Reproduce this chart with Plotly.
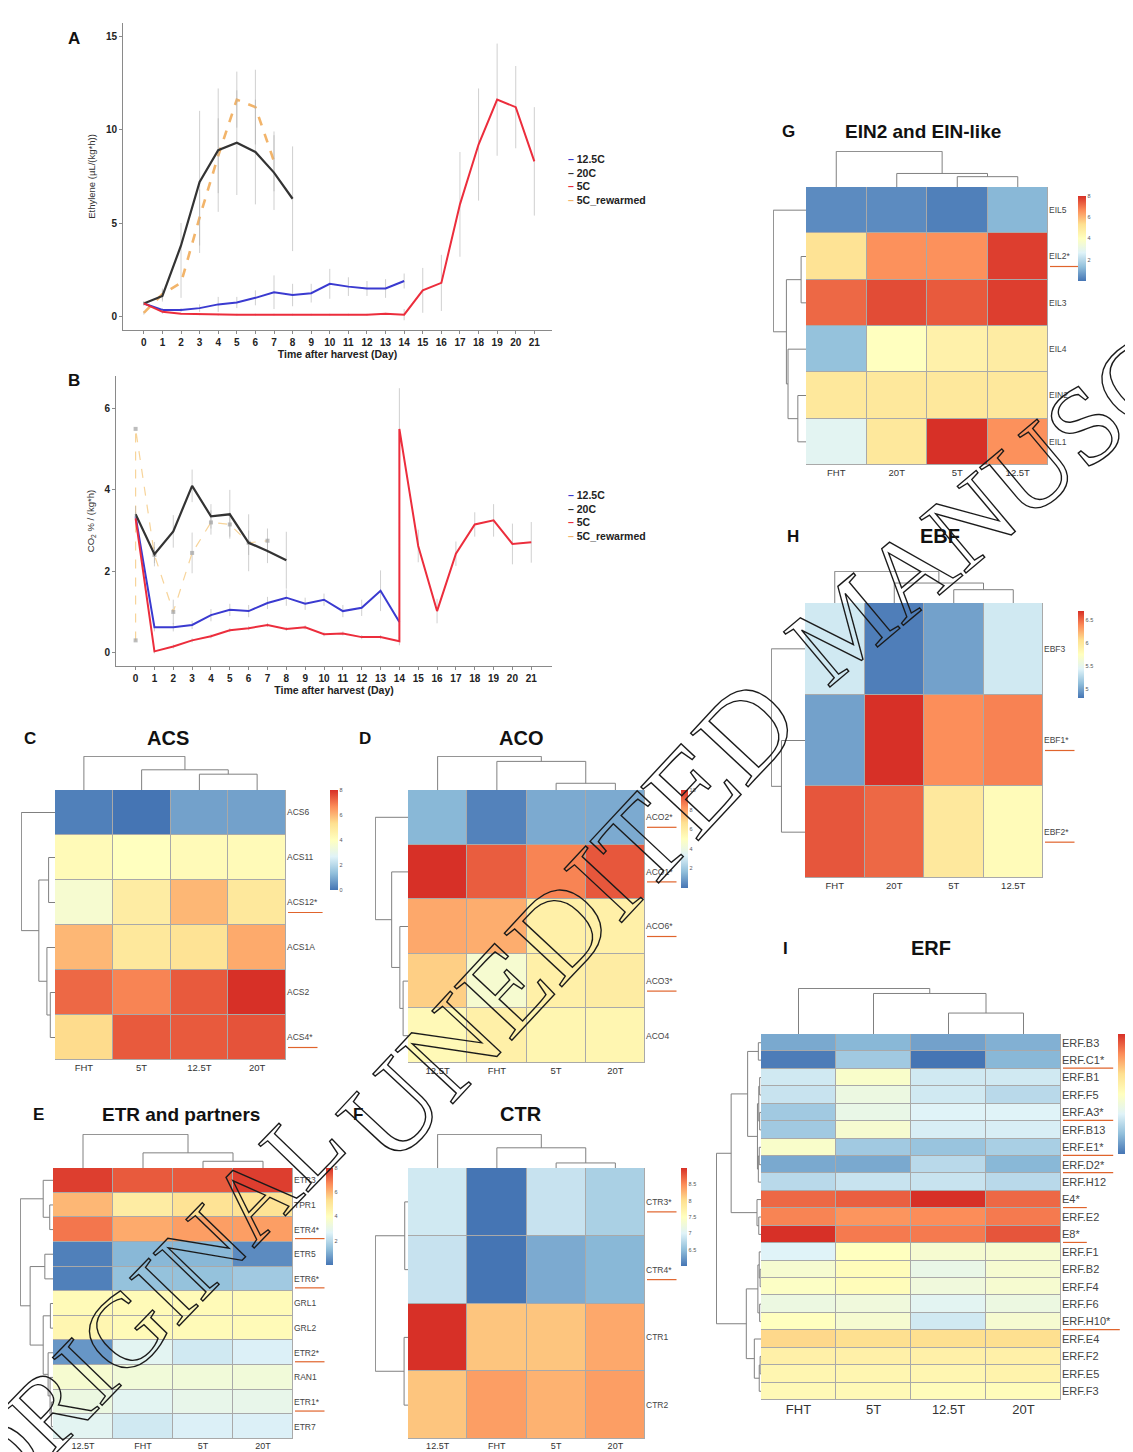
import plotly.graph_objects as go

W, H = 1133, 1452
FONT = "Liberation Sans, Arial, sans-serif"

# ---------------- Panel A / B data ----------------
days = list(range(22))

a_125_x = list(range(15))
a_125_y = [0.7, 0.35, 0.35, 0.45, 0.65, 0.75, 1.0, 1.3, 1.15, 1.25, 1.75, 1.6, 1.5, 1.5, 1.9]
a_125_e = [0.1, 0.1, 0.1, 0.2, 0.4, 0.3, 0.4, 0.9, 0.6, 0.5, 0.8, 0.5, 0.4, 0.5, 0.4]
a_20_x = list(range(9))
a_20_y = [0.7, 1.1, 3.8, 7.2, 8.9, 9.3, 8.8, 7.7, 6.3]
a_20_e = [0.1, 0.3, 1.2, 3.8, 3.3, 2.8, 2.8, 2.0, 2.8]
a_5_x = list(range(22))
a_5_y = [0.7, 0.25, 0.15, 0.12, 0.1, 0.1, 0.1, 0.1, 0.1, 0.1, 0.1, 0.1, 0.1, 0.15, 0.1,
         1.4, 1.8, 6.0, 9.2, 11.6, 11.2, 8.3]
a_5_e = [0.1, 0.1, 0.05, 0.05, 0.05, 0.05, 0.05, 0.05, 0.05, 0.05, 0.05, 0.05, 0.05, 0.05, 0.3,
         1.2, 1.5, 2.8, 3.0, 3.0, 2.2, 2.9]
a_rw_x = list(range(8))
a_rw_y = [0.2, 1.2, 1.8, 5.3, 8.6, 11.6, 11.2, 8.3]
a_rw_e = [0.1, 0.3, 0.8, 1.5, 2.0, 1.5, 2.0, 1.6]

b_125_x = list(range(15))
b_125_y = [3.35, 0.62, 0.62, 0.68, 0.92, 1.05, 1.02, 1.22, 1.35, 1.2, 1.3, 1.02, 1.1, 1.52, 0.75]
b_125_e = [0.1, 0.1, 0.1, 0.1, 0.15, 0.15, 0.15, 0.15, 0.2, 0.15, 0.15, 0.15, 0.2, 0.5, 0.2]
b_20_x = list(range(9))
b_20_y = [3.4, 2.42, 2.98, 4.1, 3.35, 3.4, 2.7, 2.5, 2.27]
b_20_e = [0.2, 0.3, 0.4, 0.4, 0.3, 0.6, 0.7, 0.3, 0.7]
b_5_x = list(range(15)) + [14] + list(range(15, 22))
b_5_y = [3.3, 0.03, 0.15, 0.3, 0.4, 0.55, 0.6, 0.68, 0.58, 0.62, 0.45, 0.47, 0.38, 0.38, 0.28,
         5.5, 2.62, 1.02, 2.43, 3.15, 3.25, 2.67, 2.71]
b_5_e = [0.1, 0.05, 0.05, 0.05, 0.05, 0.05, 0.05, 0.05, 0.05, 0.05, 0.05, 0.05, 0.05, 0.05, 0.1,
         1.0, 0.4, 0.3, 0.3, 0.3, 0.4, 0.5, 0.5]
b_rw_x = [0, 0, 1, 2, 3, 4, 5, 6, 7]
b_rw_y = [0.3, 5.5, 2.4, 1.0, 2.45, 3.2, 3.15, 2.7, 2.75]
b_rw_e = [0.0, 0.0, 0.2, 0.3, 0.5, 0.3, 0.3, 0.3, 0.3]

series_names = ["12.5C", "20C", "5C", "5C_rewarmed"]
series_colors = ["#3a3ad0", "#333333", "#ec2d3c", "#f2b46a"]

# ---------------- Heatmap data ----------------
c_cols = ["FHT", "5T", "12.5T", "20T"]
c_rows = ["ACS6", "ACS11", "ACS12*", "ACS1A", "ACS2", "ACS4*"]
c_z = [[0.2, 0.0, 0.8, 0.8],
       [4.2, 4.0, 4.2, 4.2],
       [3.6, 4.8, 6.0, 5.0],
       [6.0, 5.0, 5.2, 6.2],
       [7.2, 6.8, 7.4, 8.0],
       [5.4, 7.4, 7.4, 7.5]]
c_ticks = [0, 2, 4, 6, 8]

d_cols = ["12.5T", "FHT", "5T", "20T"]
d_rows = ["ACO2*", "ACO1*", "ACO6*", "ACO3*", "ACO4"]
d_z = [[1.5, 0.3, 1.2, 1.2],
       [10.0, 9.2, 8.5, 9.3],
       [7.8, 7.7, 5.8, 5.8],
       [7.0, 4.5, 5.8, 6.0],
       [5.3, 5.8, 5.5, 5.5]]
d_ticks = [2, 4, 6, 8, 10]

e_cols = ["12.5T", "FHT", "5T", "20T"]
e_rows = ["ETR3", "TPR1", "ETR4*", "ETR5", "ETR6*", "GRL1", "GRL2", "ETR2*", "RAN1", "ETR1*", "ETR7"]
e_z = [[7.8, 7.4, 7.4, 7.8],
       [6.0, 4.8, 5.2, 5.2],
       [7.0, 6.2, 6.4, 6.4],
       [0.2, 1.2, 1.2, 0.4],
       [0.2, 1.4, 1.4, 1.6],
       [4.2, 4.2, 4.2, 4.2],
       [4.4, 4.2, 4.2, 4.2],
       [0.6, 2.8, 2.4, 2.6],
       [3.6, 3.4, 3.4, 3.4],
       [3.2, 2.8, 3.0, 3.0],
       [2.8, 2.4, 2.6, 2.6]]
e_ticks = [2, 4, 6, 8]

f_cols = ["12.5T", "FHT", "5T", "20T"]
f_rows = ["CTR3*", "CTR4*", "CTR1", "CTR2"]
f_z = [[6.9, 6.0, 6.84, 6.66],
       [6.84, 6.0, 6.36, 6.45],
       [9.0, 8.16, 8.16, 8.34],
       [8.16, 8.4, 8.28, 8.4]]
f_ticks = [6.5, 7, 7.5, 8, 8.5]

g_cols = ["FHT", "20T", "5T", "12.5T"]
g_rows = ["EIL5", "EIL2*", "EIL3", "EIL4", "EIN2", "EIL1"]
g_z = [[0.4, 0.4, 0.2, 1.2],
       [5.2, 6.6, 6.6, 7.8],
       [7.2, 7.6, 7.4, 7.8],
       [1.4, 4.0, 4.6, 4.8],
       [5.0, 5.0, 5.0, 5.0],
       [2.8, 5.0, 8.0, 6.6]]
g_ticks = [2, 4, 6, 8]

h_cols = ["FHT", "20T", "5T", "12.5T"]
h_rows = ["EBF3", "EBF1*", "EBF2*"]
h_z = [[5.37, 4.84, 4.99, 5.37],
       [4.99, 6.70, 6.38, 6.42],
       [6.57, 6.51, 5.98, 5.79]]
h_ticks = [5, 5.5, 6, 6.5]

i_cols = ["FHT", "5T", "12.5T", "20T"]
i_rows = ["ERF.B3", "ERF.C1*", "ERF.B1", "ERF.F5", "ERF.A3*", "ERF.B13", "ERF.E1*", "ERF.D2*",
          "ERF.H12", "E4*", "ERF.E2", "E8*", "ERF.F1", "ERF.B2", "ERF.F4", "ERF.F6", "ERF.H10*",
          "ERF.E4", "ERF.F2", "ERF.E5", "ERF.F3"]
i_z = [[0.7, 0.9, 0.6, 0.8],
       [0.1, 1.2, 0.0, 0.9],
       [1.8, 2.8, 1.8, 1.8],
       [1.7, 2.4, 1.8, 1.5],
       [1.2, 2.3, 2.0, 2.0],
       [1.2, 2.7, 1.9, 1.9],
       [2.8, 1.2, 1.1, 1.3],
       [0.7, 0.7, 1.5, 0.9],
       [1.5, 1.7, 1.7, 1.5],
       [5.4, 5.5, 6.0, 5.4],
       [5.1, 4.9, 5.0, 5.2],
       [6.0, 5.2, 5.2, 5.6],
       [2.0, 3.0, 2.7, 2.7],
       [2.7, 3.1, 2.3, 2.7],
       [2.9, 3.1, 2.5, 2.7],
       [2.4, 2.5, 2.1, 2.4],
       [3.0, 2.7, 1.8, 2.7],
       [4.1, 4.0, 4.0, 4.0],
       [3.5, 3.5, 3.5, 3.5],
       [3.3, 3.3, 3.3, 3.4],
       [3.2, 3.2, 3.1, 3.1]]
i_ticks = [1, 2, 3, 4, 5, 6]

# dendrogram trees: leaf = index, node = (left, right, height)
c_coltree = (0, (1, (2, 3, 47), 60), 100)
c_rowtree = (0, ((1, 2, 19), (3, (4, 5, 14), 24), 48), 100)
d_coltree = (0, (1, (2, 3, 20), 85), 100)
d_rowtree = (0, (1, (2, (3, 4, 15), 25), 50), 100)
e_coltree = (0, (1, (2, 3, 20), 45), 100)
e_rowtree = ((0, (1, 2, 10), 30),
             ((3, 4, 25), ((5, 6, 8), (7, (8, (9, 10, 5), 9), 15), 30), 70), 100)
f_coltree = (0, (1, (2, 3, 15), 60), 100)
f_rowtree = ((0, 1, 10), (2, 3, 12), 100)
g_coltree = (0, (1, (2, 3, 29), 38), 100)
g_rowtree = (0, ((1, 2, 15), (3, (4, 5, 25), 55), 60), 100)
h_coltree = (0, (1, (2, 3, 42), 63), 100)
h_rowtree = (0, (1, 2, 70), 100)
i_coltree = (0, (1, (2, 3, 46), 89), 100)
i_rowtree = (((((0, 1, 6), (((2, 3, 3), (4, 5, 3), 5), ((6, 7, 4), 8, 6), 8), 30),
               (9, (10, 11, 5), 9), 67),
              (((12, (13, 14, 2), 4), (15, 16, 3), 7), (17, ((18, 19, 2), 20, 4), 15), 33), 100))

COLORSCALE = [[0.0, "#4575B4"], [1/6, "#91BFDB"], [2/6, "#E0F3F8"], [3/6, "#FFFFBF"],
              [4/6, "#FEE090"], [5/6, "#FC8D59"], [1.0, "#D73027"]]

# ---------------- helpers ----------------
def XD(x0, x1):
    return [x0 / W, x1 / W]

def YD(y0, y1):
    return [1 - y1 / H, 1 - y0 / H]

fig = go.Figure()
layout = {}
shapes = []
annotations = []
axn = [0]

def new_axes(xdom, ydom, xkw, ykw):
    axn[0] += 1
    n = axn[0]
    sx = "" if n == 1 else str(n)
    layout["xaxis" + sx] = dict(domain=xdom, anchor="y" + sx, **xkw)
    layout["yaxis" + sx] = dict(domain=ydom, anchor="x" + sx, **ykw)
    return "x" + sx, "y" + sx

def dendro(tree):
    pos, hts = [], []
    def rec(node):
        if isinstance(node, int):
            return float(node), 0.0
        l, r, h = node
        pl, hl = rec(l)
        pr, hr = rec(r)
        pos.extend([pl, pl, pr, pr, None])
        hts.extend([hl, h, h, hr, None])
        return (pl + pr) / 2, h
    rec(tree)
    return pos, hts

def text_ann(x, y, text, size, bold=True, xanchor="center", color="#111"):
    annotations.append(dict(x=x / W, y=1 - y / H, xref="paper", yref="paper", text=text,
                            showarrow=False, xanchor=xanchor, yanchor="middle",
                            font=dict(family=FONT, size=size, color=color,
                                      weight="bold" if bold else "normal")))

# ---------------- line plots ----------------
def line_axes(box, xr, yr, yticks, ytitle):
    x0, x1, y0, y1 = box
    tf = dict(family=FONT, size=10, color="#222", weight="bold")
    xkw = dict(range=xr, tickmode="array", tickvals=days, showgrid=False, zeroline=False,
               showline=True, linecolor="#8a8a8a", ticks="outside", ticklen=3, tickcolor="#8a8a8a",
               tickfont=tf,
               title=dict(text="Time after harvest (Day)", standoff=3,
                          font=dict(family=FONT, size=10.5, color="#222", weight="bold")))
    ykw = dict(range=yr, tickmode="array", tickvals=yticks, showgrid=False, zeroline=False,
               showline=True, linecolor="#8a8a8a", ticks="outside", ticklen=3, tickcolor="#8a8a8a",
               tickfont=tf,
               title=dict(text=ytitle, standoff=8, font=dict(family=FONT, size=9.5, color="#333")))
    return new_axes(XD(x0, x1), YD(y0, y1), xkw, ykw)

ERRC = "rgba(170,170,170,0.55)"

def add_series(xa, ya, xs, ys, es, name, color, width, dash="solid", markers=False):
    fig.add_trace(go.Scatter(
        x=xs, y=ys, name=name, mode="lines+markers" if markers else "lines",
        line=dict(color=color, width=width, dash=dash),
        marker=dict(size=4, color="rgba(160,160,160,0.7)", symbol="square"),
        error_y=dict(type="data", array=es, color=ERRC, thickness=1, width=0),
        xaxis=xa, yaxis=ya, showlegend=False, hoverinfo="x+y+name"))

xa, ya = line_axes((115, 544, 15, 322), [-1.12, 21.95], [-0.72, 15.7], [0, 5, 10, 15],
                   "Ethylene (µL/(kg*h))")
add_series(xa, ya, a_rw_x, a_rw_y, a_rw_e, "5C_rewarmed", series_colors[3], 2.6, "dash")
add_series(xa, ya, a_125_x, a_125_y, a_125_e, "12.5C", series_colors[0], 2)
add_series(xa, ya, a_20_x, a_20_y, a_20_e, "20C", series_colors[1], 2.2)
add_series(xa, ya, a_5_x, a_5_y, a_5_e, "5C", series_colors[2], 2)

xb, yb = line_axes((108, 544, 368, 658), [-1.04, 22.1], [-0.33, 6.8], [0, 2, 4, 6],
                   "CO<sub>2</sub> % / (kg*h)")
add_series(xb, yb, b_rw_x, b_rw_y, b_rw_e, "5C_rewarmed", "#f7d49a", 1.2, "dash", markers=True)
add_series(xb, yb, b_125_x, b_125_y, b_125_e, "12.5C", series_colors[0], 2)
add_series(xb, yb, b_20_x, b_20_y, b_20_e, "20C", series_colors[1], 2.2)
add_series(xb, yb, b_5_x, b_5_y, b_5_e, "5C", series_colors[2], 2)

def legend_ann(x, y):
    lines = []
    for nm, col in zip(series_names, series_colors):
        lines.append("<span style='color:%s'>–</span> %s" % (col, nm))
    annotations.append(dict(x=x / W, y=1 - y / H, xref="paper", yref="paper",
                            text="<br>".join(lines), showarrow=False, align="left",
                            xanchor="left", yanchor="top",
                            font=dict(family=FONT, size=10.5, color="#222", weight="bold")))

legend_ann(558, 143)
legend_ann(558, 479)
text_ann(66, 30, "A", 17)
text_ann(66, 372, "B", 17)

# ---------------- heatmap panels ----------------
def heat_panel(box, cols, rows, z, zmin, zmax, cticks, coltree, rowtree, dtop, dleft,
               cb, colfs, rowfs, ul_px):
    x0, x1, y0, y1 = box
    nr = len(rows)
    hx, hy = new_axes(
        XD(x0, x1), YD(y0, y1),
        dict(range=[-0.5, 3.5], tickmode="array", tickvals=list(range(4)), ticktext=cols,
             showgrid=False, zeroline=False, showline=False, ticks="",
             tickfont=dict(family=FONT, size=colfs, color="#333")),
        dict(range=[nr - 0.5, -0.5], tickmode="array", tickvals=list(range(nr)), ticktext=rows,
             side="right", showgrid=False, zeroline=False, showline=False, ticks="",
             tickfont=dict(family=FONT, size=rowfs, color="#444")))
    cbx, cby, cbt, cbl = cb
    fig.add_trace(go.Heatmap(
        z=z, x=list(range(4)), y=list(range(nr)), xaxis=hx, yaxis=hy,
        colorscale=COLORSCALE, zmin=zmin, zmax=zmax, xgap=1, ygap=1,
        colorbar=dict(x=cbx / W, xanchor="left", y=1 - cby / H, yanchor="top",
                      len=cbl, lenmode="pixels", thickness=cbt, thicknessmode="pixels",
                      outlinewidth=0, tickvals=cticks, ticks="", xpad=0, ypad=0,
                      tickfont=dict(family=FONT, size=5.5, color="#555"))))
    shapes.append(dict(type="rect", xref=hx + " domain", yref=hy + " domain",
                       x0=0, x1=1, y0=0, y1=1, layer="below",
                       fillcolor="#a9a9a9", line=dict(width=0)))
    # column dendrogram
    px, ph = dendro(coltree)
    cx, cy = new_axes(XD(x0, x1), YD(dtop, y0),
                      dict(range=[-0.5, 3.5], visible=False),
                      dict(range=[0, 101], visible=False))
    fig.add_trace(go.Scatter(x=px, y=ph, mode="lines", line=dict(color="#808080", width=1),
                             xaxis=cx, yaxis=cy, showlegend=False, hoverinfo="skip"))
    # row dendrogram
    py, rh = dendro(rowtree)
    rx, ry = new_axes(XD(dleft, x0), YD(y0, y1),
                      dict(range=[101, 0], visible=False),
                      dict(range=[nr - 0.5, -0.5], visible=False))
    fig.add_trace(go.Scatter(x=rh, y=py, mode="lines", line=dict(color="#808080", width=1),
                             xaxis=rx, yaxis=ry, showlegend=False, hoverinfo="skip"))
    # underlines for starred genes
    row_px = (y1 - y0) / nr
    for i, r in enumerate(rows):
        if r.endswith("*"):
            off = ul_px / row_px
            lw = len(r) * rowfs * 0.6 + 4
            shapes.append(dict(type="line", xref="paper", yref=hy,
                               x0=(x1 + 2) / W, x1=(x1 + 2 + lw) / W,
                               y0=i + off, y1=i + off,
                               line=dict(color="#e0642c", width=1.2)))

heat_panel((47, 278, 782, 1052), c_cols, c_rows, c_z, 0, 8, c_ticks, c_coltree, c_rowtree,
           748, 13, (322, 782, 8, 100), 9.5, 8.5, 10)
text_ann(22, 730, "C", 17)
text_ann(160, 730, "ACS", 20)

heat_panel((400, 637, 782, 1055), d_cols, d_rows, d_z, 0, 10, d_ticks, d_coltree, d_rowtree,
           748, 367, (673, 782, 7, 98), 9.5, 8.5, 10)
text_ann(357, 730, "D", 17)
text_ann(513, 730, "ACO", 20)

heat_panel((45, 285, 1160, 1431), e_cols, e_rows, e_z, 0, 8, e_ticks, e_coltree, e_rowtree,
           1126, 12, (318, 1160, 7, 97), 9, 8.5, 9)
text_ann(30, 1106, "E", 17)
text_ann(173, 1106, "ETR and partners", 19)

heat_panel((400, 637, 1160, 1431), f_cols, f_rows, f_z, 6, 9, f_ticks, f_coltree, f_rowtree,
           1126, 367, (673, 1160, 6, 98), 9, 8.5, 10)
text_ann(350, 1106, "F", 17)
text_ann(513, 1106, "CTR", 20)

heat_panel((798, 1040, 179, 457), g_cols, g_rows, g_z, 0, 8, g_ticks, g_coltree, g_rowtree,
           143, 765, (1070, 188, 8, 85), 9.5, 8.5, 10)
text_ann(780, 123, "G", 17)
text_ann(915, 123, "EIN2 and EIN-like", 19)

heat_panel((797, 1035, 595, 870), h_cols, h_rows, h_z, 4.8, 6.7, h_ticks, h_coltree, h_rowtree,
           563, 763, (1070, 603, 6, 87), 9.5, 8.5, 10)
text_ann(785, 528, "H", 17)
text_ann(932, 528, "EBF", 20)

heat_panel((753, 1053, 1026, 1392), i_cols, i_rows, i_z, 0, 6, i_ticks, i_coltree, i_rowtree,
           980, 708, (1110, 1026, 9, 120), 13, 11, 8)
text_ann(777, 940, "I", 17)
text_ann(923, 940, "ERF", 20)

# ---------------- watermark ----------------
watermark = [("ORIGINAL", 140, 1298, -46, 105),
             ("UNEDITED", 560, 912, -47, 120),
             ("MANUSCRIPT", 1067, 425, -40, 110)]
for word, wx, wy, ang, sz in watermark:
    annotations.append(dict(x=wx / W, y=1 - wy / H, xref="paper", yref="paper", text=word,
                            showarrow=False, textangle=ang, xanchor="center", yanchor="middle",
                            font=dict(family="Liberation Serif, Times New Roman, serif",
                                      size=sz, color="rgba(0,0,0,0.15)")))

layout.update(dict(width=W, height=H, autosize=False,
                   margin=dict(l=0, r=0, t=0, b=0, pad=0),
                   paper_bgcolor="white", plot_bgcolor="white",
                   font=dict(family=FONT, color="#222"),
                   showlegend=False, shapes=shapes, annotations=annotations))
fig.update_layout(**layout)

post = """
(function(){
  function f(){
    var gd = document.getElementById('{plot_id}');
    if(!gd) return;
    gd.querySelectorAll('text.annotation-text').forEach(function(t){
      var s = t.textContent;
      if(s === 'ORIGINAL' || s === 'UNEDITED' || s === 'MANUSCRIPT'){
        t.style.fill = 'none';
        t.style.stroke = '#1a1a1a';
        t.style.strokeWidth = '1.4px';
      }
    });
  }
  f(); setTimeout(f, 50); setTimeout(f, 300); setTimeout(f, 1000);
})();
"""
fig.write_html("out.html", post_script=post)
